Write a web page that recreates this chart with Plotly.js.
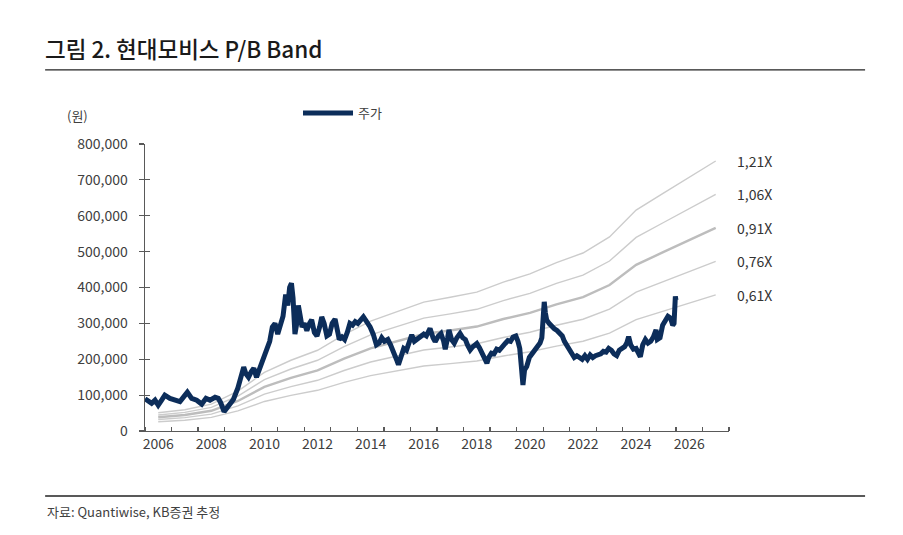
<!DOCTYPE html>
<html>
<head>
<meta charset="utf-8">
<script src="https://cdn.plot.ly/plotly-3.0.1.min.js"></script>
<style>
  html, body { margin: 0; padding: 0; background: #ffffff; }
  #chart { width: 903px; height: 535px; }
</style>
</head>
<body>
<div id="chart"></div>
<script>
// ---- Data ----
// Share price (원): time as decimal year, value in won
const priceT = [
  2006.00, 2006.13, 2006.25, 2006.38, 2006.50, 2006.63, 2006.75, 2006.94,
  2007.13, 2007.32, 2007.51, 2007.60, 2007.76, 2007.95,
  2008.14, 2008.30, 2008.45, 2008.64, 2008.76, 2008.85, 2008.98,
  2009.14, 2009.33, 2009.50, 2009.62, 2009.72, 2009.80, 2009.90,
  2010.00, 2010.10, 2010.20, 2010.30, 2010.40, 2010.50, 2010.60, 2010.70, 2010.80, 2010.90,
  2011.00, 2011.10, 2011.20, 2011.30, 2011.38, 2011.45, 2011.52, 2011.58, 2011.65, 2011.72, 2011.78, 2011.85, 2011.92,
  2012.00, 2012.10, 2012.20, 2012.28, 2012.38, 2012.48, 2012.58, 2012.66, 2012.75, 2012.85, 2012.95,
  2013.05, 2013.16, 2013.25, 2013.32, 2013.42, 2013.52, 2013.62, 2013.72, 2013.82, 2013.92,
  2014.02, 2014.12, 2014.23, 2014.35, 2014.48, 2014.60, 2014.72, 2014.82, 2014.92,
  2015.02, 2015.15, 2015.25, 2015.38, 2015.50, 2015.55, 2015.65, 2015.75, 2015.85, 2015.95,
  2016.05, 2016.15, 2016.25, 2016.37, 2016.50, 2016.60, 2016.74, 2016.85, 2016.93,
  2017.05, 2017.15, 2017.25, 2017.31, 2017.40, 2017.45, 2017.55, 2017.65, 2017.75, 2017.87, 2017.97,
  2018.07, 2018.15, 2018.25, 2018.35, 2018.50, 2018.60, 2018.70, 2018.80, 2018.88, 2018.95,
  2019.05, 2019.15, 2019.25, 2019.35, 2019.47, 2019.57, 2019.67, 2019.77, 2019.87, 2019.97,
  2020.05, 2020.12, 2020.18, 2020.22, 2020.24, 2020.30, 2020.38, 2020.48, 2020.58, 2020.68, 2020.78, 2020.88, 2020.95,
  2021.00, 2021.04, 2021.08, 2021.13, 2021.22, 2021.32, 2021.42, 2021.52, 2021.62, 2021.72, 2021.80, 2021.88, 2021.97,
  2022.07, 2022.17, 2022.27, 2022.37, 2022.47, 2022.57, 2022.67, 2022.77, 2022.87, 2022.97,
  2023.07, 2023.17, 2023.27, 2023.37, 2023.47, 2023.57, 2023.67, 2023.77, 2023.87, 2023.97,
  2024.07, 2024.15, 2024.22, 2024.30, 2024.40, 2024.50, 2024.60, 2024.66, 2024.75, 2024.85, 2024.95,
  2025.05, 2025.15, 2025.25, 2025.30, 2025.40, 2025.50, 2025.60, 2025.70, 2025.80, 2025.88, 2025.93, 2025.96, 2025.98, 2026.00
];
const priceV = [
  90000, 82000, 77000, 86000, 72000, 86000, 100000, 91000,
  86000, 82000, 100000, 108000, 91000, 86000,
  75000, 91000, 86000, 94000, 91000, 79000, 54000,
  68000, 88000, 120000, 150000, 178000, 160000, 150000,
  165000, 175000, 150000, 170000, 195000, 210000, 235000, 250000, 290000, 300000,
  270000, 300000, 320000, 380000, 350000, 400000, 412000, 370000, 270000, 300000, 350000, 320000, 290000,
  300000, 280000, 300000, 310000, 275000, 265000, 290000, 318000, 300000, 265000, 270000,
  300000, 312000, 285000, 255000, 262000, 255000, 275000, 300000, 295000, 305000,
  300000, 310000, 318000, 305000, 290000, 270000, 240000, 245000, 260000,
  250000, 255000, 240000, 220000, 195000, 185000, 205000, 230000, 225000, 250000,
  268000, 250000, 255000, 263000, 270000, 265000, 286000, 260000, 249000,
  265000, 272000, 250000, 228000, 260000, 282000, 255000, 245000, 260000, 272000, 260000,
  255000, 240000, 226000, 235000, 244000, 232000, 217000, 200000, 189000, 205000,
  217000, 215000, 228000, 225000, 238000, 244000, 252000, 250000, 262000, 265000,
  250000, 230000, 180000, 140000, 128000, 170000, 180000, 205000, 215000, 225000, 235000, 245000, 260000,
  310000, 360000, 330000, 310000, 300000, 290000, 285000, 280000, 270000, 265000, 250000, 240000, 225000,
  215000, 205000, 210000, 203000, 200000, 210000, 200000, 212000, 205000, 210000,
  212000, 215000, 222000, 220000, 230000, 225000, 215000, 210000, 225000, 230000,
  235000, 245000, 263000, 240000, 228000, 230000, 215000, 207000, 240000, 255000, 245000,
  250000, 262000, 282000, 255000, 260000, 295000, 310000, 320000, 315000, 295000, 300000, 370000, 375000, 365000
];

// Book value per share (원), one point per mid-year
const bpsT = [2006.5, 2007.5, 2008.5, 2009.5, 2010.5, 2011.5, 2012.5, 2013.5, 2014.5, 2015.5, 2016.5,
              2017.5, 2018.5, 2019.5, 2020.5, 2021.5, 2022.5, 2023.5, 2024.5, 2025.5, 2026.5, 2027.5];
const bpsV = [42000, 49000, 62000, 92000, 135000, 163000, 186000, 222000, 253000, 275000, 297000,
              308000, 320000, 343000, 362000, 388000, 410000, 447000, 509000, 547000, 585000, 622000];

// P/B multiples and their labels
const multiples = [1.21, 1.06, 0.91, 0.76, 0.61];
const bandLabels = ['1,21X', '1,06X', '0,91X', '0,76X', '0,61X'];

const seriesName = '주가';
const yTickVals = [0, 100000, 200000, 300000, 400000, 500000, 600000, 700000, 800000];

// ---- helpers ----
function toDate(y) {
  const yr = Math.floor(y);
  const start = Date.UTC(yr, 0, 1);
  const end = Date.UTC(yr + 1, 0, 1);
  return new Date(start + (y - yr) * (end - start)).toISOString().slice(0, 10);
}

const FONT = '"Noto Sans CJK KR", "Noto Sans", sans-serif';
const bandDates = bpsT.map(toDate);

const traces = [];
multiples.forEach((m, i) => {
  const isMid = i === 2;
  traces.push({
    x: bandDates,
    y: bpsV.map(v => v * m),
    type: 'scatter',
    mode: 'lines',
    line: { color: isMid ? '#bdbdbd' : '#cccccc', width: isMid ? 2.4 : 1.4 },
    showlegend: false,
    hoverinfo: 'skip'
  });
});

traces.push({
  x: priceT.map(toDate),
  y: priceV,
  type: 'scatter',
  mode: 'lines',
  name: seriesName,
  line: { color: '#0c2d5a', width: 5 },
  showlegend: true
});

// helper trace to carry the inside-tick overlay axis
traces.push({
  x: [bandDates[0]], y: [0], yaxis: 'y2', type: 'scatter', mode: 'markers',
  marker: { opacity: 0 }, showlegend: false, hoverinfo: 'skip'
});

const annotations = multiples.map((m, i) => ({
  x: bandDates[bandDates.length - 1],
  y: bpsV[bpsV.length - 1] * m,
  xref: 'x', yref: 'y',
  text: bandLabels[i],
  showarrow: false,
  xanchor: 'left', yanchor: 'middle',
  xshift: 19,
  font: { family: FONT, size: 14, color: '#333333' }
}));

annotations.push({
  xref: 'paper', yref: 'paper',
  x: -0.137, y: 1.098,
  text: '(원)', showarrow: false,
  xanchor: 'left', yanchor: 'middle',
  font: { family: FONT, size: 13, color: '#404040' }
});
annotations.push({
  xref: 'paper', yref: 'paper',
  x: -0.171, y: -0.279,
  text: '자료: Quantiwise, KB증권 추정', showarrow: false,
  xanchor: 'left', yanchor: 'middle',
  font: { family: FONT, size: 13, color: '#404040' }
});

const layout = {
  width: 903, height: 535,
  margin: { l: 145, r: 174, t: 144, b: 104, pad: 0 },
  paper_bgcolor: '#ffffff', plot_bgcolor: '#ffffff',
  font: { family: FONT, color: '#404040' },
  title: {
    text: '그림 2. 현대모비스 P/B Band',
    x: 45 / 903, xanchor: 'left', xref: 'container',
    y: 1 - 50 / 535, yanchor: 'middle', yref: 'container',
    font: { family: FONT, size: 22.5, color: '#1a1a1a', weight: 500 }
  },
  xaxis: {
    type: 'date',
    range: [toDate(2006), toDate(2028)],
    tick0: '2006-01-01', dtick: 'M12',
    ticks: 'inside', ticklen: 4, tickwidth: 1.2, tickcolor: '#595959',
    ticklabelmode: 'period', ticklabelstep: 2, tickformat: '%Y',
    showline: true, linecolor: '#595959', linewidth: 1.4,
    showgrid: false, zeroline: false,
    tickfont: { family: FONT, size: 14, color: '#404040' },
    fixedrange: true
  },
  yaxis: {
    range: [0, 800000],
    tickmode: 'array', tickvals: yTickVals,
    tickformat: ',d',
    ticks: 'outside', ticklen: 5, tickwidth: 1.2, tickcolor: '#595959',
    ticklabelstandoff: 8,
    showline: true, linecolor: '#595959', linewidth: 1.4,
    showgrid: false, zeroline: false,
    tickfont: { family: FONT, size: 14, color: '#404040' },
    fixedrange: true
  },
  yaxis2: {
    overlaying: 'y', side: 'left',
    range: [0, 800000],
    tickmode: 'array', tickvals: yTickVals,
    ticks: 'inside', ticklen: 5, tickwidth: 1.2, tickcolor: '#595959',
    showticklabels: false, showline: false, showgrid: false, zeroline: false,
    fixedrange: true
  },
  legend: {
    orientation: 'h',
    x: 0.262, xanchor: 'left',
    y: 1.108, yanchor: 'middle',
    bgcolor: 'rgba(0,0,0,0)',
    font: { family: FONT, size: 13, color: '#404040' },
    itemwidth: 50
  },
  shapes: [
    { type: 'line', xref: 'paper', yref: 'paper', x0: -0.171, x1: 1.233, y0: 1.258, y1: 1.258,
      line: { color: '#222222', width: 1.3 } },
    { type: 'line', xref: 'paper', yref: 'paper', x0: -0.171, x1: 1.233, y0: -0.2265, y1: -0.2265,
      line: { color: '#222222', width: 1.3 } }
  ],
  annotations: annotations,
  showlegend: true,
  hovermode: false
};

Plotly.newPlot('chart', traces, layout, { displayModeBar: false, staticPlot: true });
</script>
</body>
</html>
